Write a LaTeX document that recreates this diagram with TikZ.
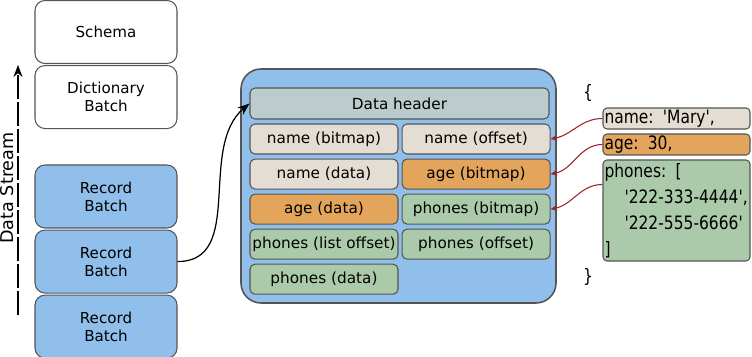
\documentclass[tikz,border=0pt]{standalone}
\usepackage{fontspec}
\setmainfont{DejaVu Sans}
\newfontfamily\jsonfont[FakeStretch=0.84]{DejaVu Sans}
\usetikzlibrary{arrows.meta,positioning}
\definecolor{batchblue}{RGB}{143,191,234}
\definecolor{boxline}{RGB}{85,85,85}
\definecolor{headergray}{RGB}{188,204,204}
\definecolor{namebeige}{RGB}{228,221,211}
\definecolor{ageorange}{RGB}{226,165,91}
\definecolor{phonegreen}{RGB}{171,202,169}
\definecolor{linkred}{RGB}{160,32,40}

\begin{document}
\begin{tikzpicture}[
    batch/.style={rectangle,rounded corners=0.2cm,draw=boxline,line width=0.6pt,
      minimum width=2.84cm,minimum height=1.26cm,align=center,
      font=\fontsize{8.6}{10.3}\selectfont},
    cell/.style={rectangle,rounded corners=0.1cm,draw=boxline,line width=0.6pt,
      minimum width=2.96cm,minimum height=0.6cm,inner xsep=1pt,
      font=\fontsize{8.7}{10}\selectfont},
    json/.style={rectangle,rounded corners=0.08cm,draw=boxline,line width=0.6pt,
      text width=2.88cm,inner xsep=0.03cm,inner ysep=0pt,align=left,
      minimum height=0.42cm,font=\jsonfont\fontsize{10.5}{14.7}\selectfont},
    brace/.style={inner sep=0pt,font=\jsonfont\fontsize{10.5}{12}\selectfont},
    flow/.style={-{Stealth[length=2.4mm,width=1.8mm]},line width=0.7pt},
    link/.style={-{Stealth[length=1.3mm,width=1.1mm]},draw=linkred,line width=0.6pt}
  ]
    \useasboundingbox (0,0) rectangle (15.04,-7.14);

    % stream of batches
    \node[batch] (schema) at (2.12,-0.64) {Schema};
    \node[batch,below=0.02cm of schema] (dict) {Dictionary\\Batch};
    \node[batch,fill=batchblue] (rb1) at (2.12,-3.93) {Record\\Batch};
    \node[batch,fill=batchblue,below=0.02cm of rb1] (rb2) {Record\\Batch};
    \node[batch,fill=batchblue,below=0.02cm of rb2] (rb3) {Record\\Batch};

    \coordinate (streamtail) at (0.36,-6.30);
    \coordinate (streamhead) at (0.36,-1.30);
    \draw[flow,dash pattern=on 0.48cm off 0.06cm] (streamtail) -- (streamhead);
    \node[rotate=90,inner sep=0pt,font=\fontsize{10}{12}\selectfont] (streamlbl) at (0.15,-3.76) {Data Stream};

    % record batch layout
    \node[rectangle,rounded corners=0.4cm,draw=boxline,line width=0.9pt,fill=batchblue,
      minimum width=6.30cm,minimum height=4.68cm] (container) at (7.97,-3.72) {};
    \node[cell,fill=headergray,minimum width=5.98cm,minimum height=0.62cm] (header) at (7.99,-2.07) {Data header};
    \node[cell,fill=namebeige] (namebm) at (6.48,-2.78) {name (bitmap)};
    \node[cell,fill=namebeige,right=0.06cm of namebm] (nameoff) {name (offset)};
    \node[cell,fill=namebeige,below=0.08cm of namebm] (namedata) {name (data)};
    \node[cell,fill=ageorange,below=0.08cm of nameoff] (agebm) {age (bitmap)};
    \node[cell,fill=ageorange,below=0.08cm of namedata] (agedata) {age (data)};
    \node[cell,fill=phonegreen,below=0.08cm of agebm] (phonesbm) {phones (bitmap)};
    \node[cell,fill=phonegreen,below=0.08cm of agedata] (phoneslist) {phones (list offset)};
    \node[cell,fill=phonegreen,below=0.08cm of phonesbm] (phonesoff) {phones (offset)};
    \node[cell,fill=phonegreen,below=0.08cm of phoneslist] (phonesdata) {phones (data)};

    \draw[flow] (rb2.east) to[out=0,in=-140] (header.west);

    % json record
    \node[brace] (openbr) at (11.76,-1.86) {\{};
    \node[json,fill=namebeige] (namej) at (13.53,-2.37) {\mbox{name: 'Mary',}};
    \node[json,fill=ageorange] (agej) at (13.53,-2.89) {\mbox{age: 30,}};
    \node[json,fill=phonegreen,inner ysep=0.04cm,minimum height=2.02cm] (phonesj) at (13.53,-4.21)
      {\mbox{phones: [}\\\hspace*{0.4cm}\mbox{'222-333-4444',}\\\hspace*{0.4cm}\mbox{'222-555-6666'}\\]};
    \node[brace] (closebr) at (11.76,-5.54) {\}};

    \draw[link] (namej.west) to[out=180,in=10] (nameoff.east);
    \draw[link] (agej.west) to[out=180,in=10] (agebm.east);
    \draw[link] ([yshift=-0.5cm]phonesj.north west) to[out=180,in=10] (phonesbm.east);
  \end{tikzpicture}
\end{document}
